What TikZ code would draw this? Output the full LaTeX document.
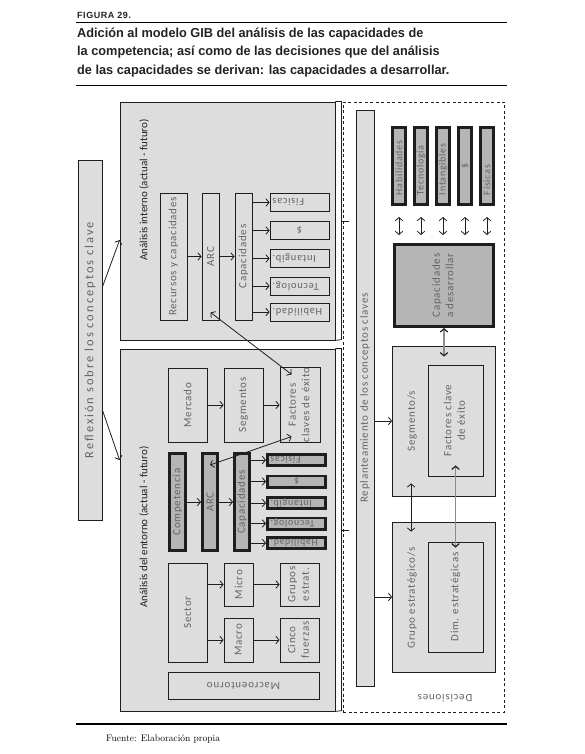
\documentclass[tikz,border=0pt]{standalone}
\usepackage{fontspec}
\usepackage{graphicx}
\usetikzlibrary{arrows.meta}
\newfontfamily\titlefont[FakeStretch=0.98]{Liberation Sans}
\newfontfamily\figfont[LetterSpace=6]{Liberation Sans}
\newfontfamily\diafont[LetterSpace=7]{Carlito}
\newfontfamily\headfont{Carlito}
\newfontfamily\reflfont[LetterSpace=16]{Carlito}
\definecolor{BoxGray}{RGB}{221,221,221}
\definecolor{CapGray}{RGB}{181,181,181}
\definecolor{LineDark}{RGB}{30,30,30}
\definecolor{TxtGray}{RGB}{100,100,100}
\definecolor{TxtDark}{RGB}{35,35,35}
\definecolor{LinkGray}{RGB}{140,140,140}
\newcommand{\vtxt}[1]{\rotatebox{90}{#1}}
\newcommand{\ftxt}[1]{\rotatebox{180}{#1}}
\newcommand{\vtwo}[2]{\rotatebox{90}{\begin{tabular}{@{}c@{}}#1\\#2\end{tabular}}}
\begin{document}
\begin{tikzpicture}[x=1pt,y=-1pt,>={Straight Barb[length=3.2pt,width=7.5pt]}]
  \tikzset{
    sz/.style 2 args={minimum width=#1pt, minimum height=#2pt},
    box/.style={draw=LineDark, line width=0.8pt, fill=BoxGray, inner sep=0pt,
      font=\diafont\fontsize{11}{13.5}\selectfont, text=TxtGray},
    capbox/.style={box, fill=CapGray, line width=2.6pt},
    lab/.style={inner sep=0pt, font=\diafont\fontsize{11}{13}\selectfont, text=TxtGray},
    head/.style={inner sep=0pt, font=\headfont\fontsize{11}{12}\selectfont, text=TxtDark},
    link/.style={->, draw=LineDark, line width=0.8pt},
    dlink/.style={<->, draw=LineDark, line width=0.8pt},
    glink/.style={<->, >={Straight Barb[length=3.2pt,width=7.5pt,color=LineDark]},
      draw=LinkGray, line width=1.2pt}
  }
  \useasboundingbox (0,0) rectangle (584,754);

  % Title block
  \node[anchor=base west, inner sep=0pt, text=TxtDark,
    font=\figfont\bfseries\fontsize{9}{10}\selectfont] (fig) at (77,18.5) {FIGURA 29.};
  \draw[line width=1.2pt] (76,22.5) -- (507,22.5);
  \node[anchor=north west, inner sep=0pt, align=left, text=TxtDark,
    font=\titlefont\bfseries\fontsize{13}{18.5}\selectfont] (title) at (77,27.5)
    {Adición al modelo GIB del análisis de las capacidades de\\
     la competencia; así como de las decisiones que del análisis\\
     de las capacidades se derivan: las capacidades a desarrollar.};
  \draw[line width=1.2pt] (76,85.5) -- (507,85.5);

  % Reflexion
  \node[box, sz={24}{360}, font=\reflfont\fontsize{12.5}{14}\selectfont] (refl) at (90,340)
    {\vtxt{Reflexión sobre los conceptos clave}};

  % Analisis interno
  \node[box, sz={215}{238}] (int) at (227.5,221) {};
  \node[head] (intT) at (144,190) {\vtxt{Análisis interno (actual - futuro)}};
  \draw[LineDark, line width=0.8pt] (int.north east) -- ++(6,0) -- ++(0,238) -- (int.south east);
  \draw[LineDark, line width=0.8pt] (int.east) ++(6,0) -- ++(8,0);

  \node[box, sz={27}{127}] (rec) at (173.5,256.5) {\vtxt{Recursos y capacidades}};
  \node[box, sz={17}{127}] (arcI) at (210.5,256.5) {\vtxt{ARC}};
  \node[box, sz={17}{127}] (capI) at (243.5,256.5) {\vtxt{Capacidades}};
  \draw[link] (rec) -- (arcI);
  \draw[link] (arcI) -- (capI);
  \foreach \n/\t/\a/\yy in {fisI/Físicas/r/202.5, dinI/\$/c/230.5, intgI/Intangib./r/258.5,
      tecI/Tecnolog./r/286, habI/Habilidad./r/312}{
    \node[box, sz={59}{18}, font=\diafont\fontsize{10.5}{12}\selectfont] (\n) at (299.5,\yy)
      {\ftxt{\makebox[54pt][\a]{\t}}};
    \draw[link] (capI.east |- \n.west) -- (\n.west);
  }

  % Analisis del entorno
  \node[box, sz={215}{362}] (ent) at (227.5,530) {};
  \node[head] (entT) at (144,527) {\vtxt{Análisis del entorno (actual - futuro)}};
  \draw[LineDark, line width=0.8pt] (ent.north east) -- ++(6,0) -- ++(0,362) -- (ent.south east);
  \draw[LineDark, line width=0.8pt] (ent.east) ++(6,0) -- ++(8,0);

  \node[box, sz={39}{74}] (mer) at (187.5,405) {\vtxt{Mercado}};
  \node[box, sz={39}{74}] (seg) at (243.5,405) {\vtxt{Segmentos}};
  \node[box, sz={40}{74}] (fac) at (300,405) {\vtwo{Factores}{claves de éxito}};
  \draw[link] (mer) -- (seg);
  \draw[link] (seg) -- (fac);

  \node[capbox, sz={16.4}{97.4}] (comp) at (177.5,502) {\vtxt{Competencia}};
  \node[capbox, sz={15.4}{97.4}] (arcE) at (210,502) {\vtxt{ARC}};
  \node[capbox, sz={15.4}{97.4}] (capE) at (242,502) {\vtxt{Capacidades}};
  \draw[link] (comp) -- (arcE);
  \draw[link] (arcE) -- (capE);
  \foreach \n/\t/\a/\yy in {fisE/Físicas/r/460, dinE/\$/c/481.5, intgE/Intangib./r/503,
      tecE/Tecnolog./r/523.5, habE/Habilidad./r/543}{
    \node[capbox, sz={58.4}{11.4}, font=\diafont\fontsize{10}{11}\selectfont] (\n) at (296.5,\yy)
      {\ftxt{\makebox[52pt][\a]{\t}}};
    \draw[link] (capE.east |- \n.west) -- (\n.west);
  }

  \node[box, sz={39}{99}] (sec) at (187.5,612.5) {\vtxt{Sector}};
  \node[box, sz={29}{43}] (mic) at (238.5,584.5) {\vtxt{Micro}};
  \node[box, sz={29}{44}] (mac) at (238.5,640) {\vtxt{Macro}};
  \node[box, sz={39}{43}] (grpE) at (299.5,584.5) {\vtwo{Grupos}{estrat.}};
  \node[box, sz={39}{44}] (cinE) at (299.5,640) {\vtwo{Cinco}{fuerzas}};
  \node[box, sz={151}{27}] (macro) at (243.5,685.5) {\ftxt{Macroentorno}};
  \draw[link] (sec.east |- mic.west) -- (mic.west);
  \draw[link] (sec.east |- mac.west) -- (mac.west);
  \draw[link] (mic) -- (grpE);
  \draw[link] (mac) -- (cinE);

  % Links between both analyses
  \draw[link] ([yshift=53pt]refl.east) -- ([yshift=-19pt]int.west);
  \draw[link] ([yshift=-70pt]refl.east) -- ([yshift=70pt]ent.west);
  \draw[dlink] ([yshift=8pt]arcI.south) -- ([xshift=12pt,yshift=-7pt]fac.north west);
  \draw[dlink] ([xshift=12pt,yshift=6pt]fac.south west) -- ([yshift=-13pt]arcE.north);

  % Decisiones
  \node[draw=LineDark, line width=0.8pt, dash pattern=on 3pt off 2.5pt, sz={161}{610}] (dec) at (423.5,407) {};
  \node[lab] (decT) at (445,698) {\ftxt{Decisiones}};
  \node[box, sz={18}{576}] (repl) at (365,398) {\vtxt{Replanteamiento de los conceptos claves}};

  \foreach \n/\t/\a [count=\i from 0] in {hab/Habilidades/l, tec/Tecnología/l, ing/Intangibles/l,
      din/\$/c, fis/Físicas/l}{
    \node[capbox, sz={13.4}{77.4}, font=\diafont\fontsize{10}{11}\selectfont] (\n) at (399+22*\i,166)
      {\vtxt{\makebox[58pt][\a]{\t}}};
  }
  \node[capbox, sz={99.4}{82.4}] (cad) at (444,285.5) {\vtwo{Capacidades}{a desarrollar}};
  \foreach \n in {hab,tec,ing,din,fis}
    \draw[dlink, shorten <=11pt, shorten >=8pt] (\n.south) -- (\n.south |- cad.north);

  \node[box, sz={103}{150}] (seg2) at (444,421) {};
  \node[lab] (segT) at (412,421) {\vtxt{Segmento/s}};
  \node[box, sz={55}{111}] (fce) at (455.5,420.5) {\vtwo{Factores clave}{de éxito}};
  \node[box, sz={103}{150}] (gru) at (444,597) {};
  \node[lab] (gruT) at (412,598) {\vtxt{Grupo estratégico/s}};
  \node[box, sz={55}{110}] (dim) at (455.5,597) {\vtxt{Dim. estratégicas}};

  \draw[link] (repl.east |- seg2.west) -- (seg2.west);
  \draw[link] (repl.east |- gru.west) -- (gru.west);
  \draw[glink] (cad.south) -- ([yshift=-11pt]seg2.north);
  \draw[dlink] ([xshift=19pt,yshift=13pt]seg2.south west) -- ([xshift=19pt,yshift=-10pt]gru.north west);
  \draw[glink] ([yshift=11pt]fce.south) -- ([yshift=-6pt]dim.north);

  % Source
  \draw[line width=1.2pt] (76,724) -- (507,724);
  \node[anchor=base west, inner sep=0pt, font=\fontsize{9.5}{11}\selectfont] (src) at (106,741)
    {Fuente: Elaboración propia};
\end{tikzpicture}
\end{document}
